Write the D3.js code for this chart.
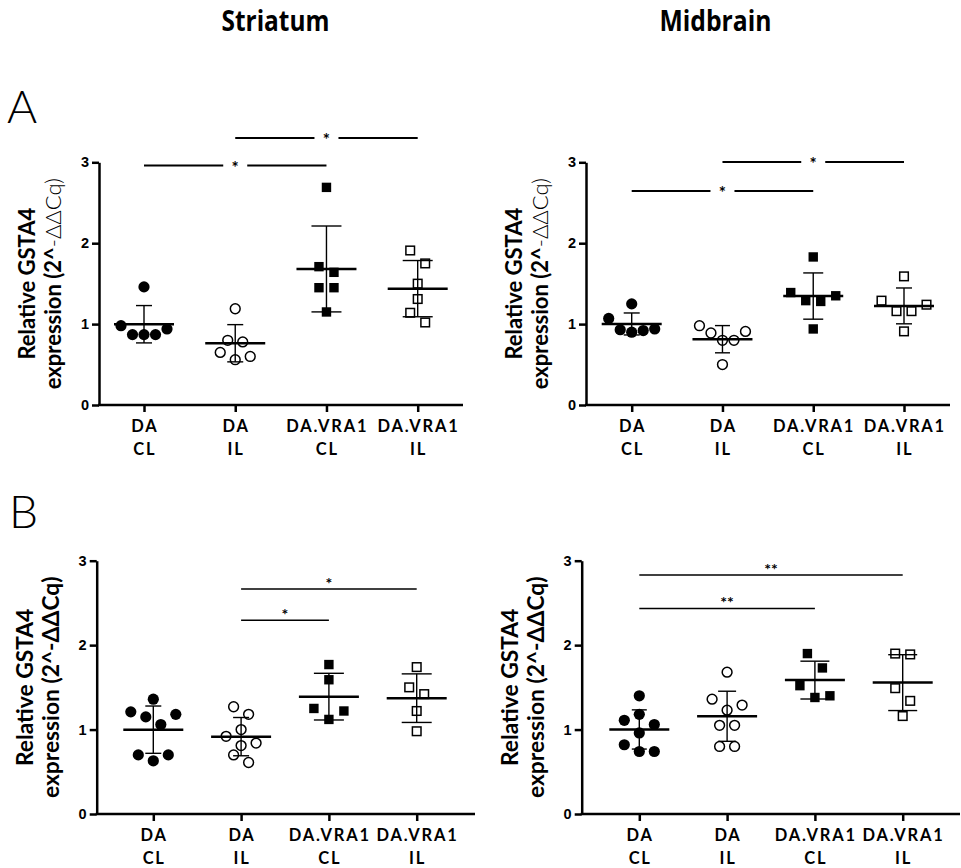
<!DOCTYPE html>
<html>
<head>
<meta charset="utf-8">
<script src="https://cdn.jsdelivr.net/npm/d3@7"></script>
<style>
  body { margin: 0; background: #fff; }
  svg { display: block; font-family: Lato, "Open Sans", sans-serif; }
</style>
</head>
<body>
<div class="chart"></div>
<script>
// x axis groups (two text lines each)
var groupTop = ["DA", "DA", "DA.VRA1", "DA.VRA1"];
var groupSub = ["CL", "IL", "CL", "IL"];
var yTicks = [0, 1, 2, 3];

// Striatum, panel A
var strA_daCL = [1.46, 0.98, 0.87, 0.87, 0.87, 0.94];
var strA_daIL = [1.19, 0.80, 0.78, 0.65, 0.56, 0.60];
var strA_vraCL = [2.69, 1.64, 1.71, 1.45, 1.45, 1.15];
var strA_vraIL = [1.91, 1.75, 1.50, 1.31, 1.14, 1.02];

// Midbrain, panel A
var midA_daCL = [1.07, 1.25, 0.93, 0.90, 0.92, 0.94];
var midA_daIL = [0.91, 0.80, 0.80, 0.89, 0.98, 0.50];
var midA_vraCL = [1.83, 1.39, 1.29, 1.28, 1.35, 0.94];
var midA_vraIL = [1.59, 1.29, 1.16, 1.16, 1.24, 0.91];

// Striatum, panel B
var strB_daCL = [1.36, 1.21, 1.15, 1.06, 1.18, 0.70, 0.63, 0.70];
var strB_daIL = [1.27, 1.18, 1.00, 0.92, 0.84, 0.81, 0.70, 0.61];
var strB_vraCL = [1.77, 1.59, 1.25, 1.22, 1.12];
var strB_vraIL = [1.74, 1.50, 1.42, 1.22, 0.98];

// Midbrain, panel B
var midB_daCL = [1.40, 1.18, 1.06, 1.11, 0.96, 0.82, 0.74, 0.74];
var midB_daIL = [1.68, 1.36, 1.29, 1.23, 1.05, 1.05, 0.80, 0.80];
var midB_vraCL = [1.90, 1.73, 1.52, 1.38, 1.40];
var midB_vraIL = [1.89, 1.90, 1.49, 1.34, 1.16];

// significance bars: from group, to group, height (y units), label
var sigStrA = [[0, 2, 2.96, "*"], [1, 3, 3.30, "*"]];
var sigMidA = [[0, 2, 2.645, "*"], [1, 3, 3.005, "*"]];
var sigStrB = [[1, 2, 2.295, "*"], [1, 3, 2.665, "*"]];
var sigMidB = [[0, 2, 2.435, "**"], [0, 3, 2.83, "**"]];

var svg = d3.select(".chart").append("svg")
  .attr("width", 961)
  .attr("height", 868);

svg.append("rect").attr("width", 961).attr("height", 868).attr("fill", "#fff");

// column titles and panel letters
svg.append("text").attr("x", 275.5).attr("y", 30.7)
  .attr("text-anchor", "middle")
  .attr("textLength", 108).attr("lengthAdjust", "spacingAndGlyphs")
  .style("font-family", "'Open Sans', sans-serif")
  .style("font-weight", 700).style("font-size", "28px")
  .text("Striatum");
svg.append("text").attr("x", 715.5).attr("y", 30.7)
  .attr("text-anchor", "middle")
  .attr("textLength", 112).attr("lengthAdjust", "spacingAndGlyphs")
  .style("font-family", "'Open Sans', sans-serif")
  .style("font-weight", 700).style("font-size", "28px")
  .text("Midbrain");
svg.append("text").attr("x", 7).attr("y", 122.7)
  .style("font-weight", 300).style("font-size", "46px").text("A");
svg.append("text").attr("x", 9).attr("y", 527.7)
  .style("font-weight", 300).style("font-size", "46px").text("B");

var panels = [
  {series: [strA_daCL, strA_daIL, strA_vraCL, strA_vraIL], sig: sigStrA,
   axisX: 99, yBot: 405, yTop: 162.3, xFirst: 144, xLast: 417.7, xEnd: 463,
   caps: [8, 8, 15, 15], inline: true, titleSize: 22},
  {series: [midA_daCL, midA_daIL, midA_vraCL, midA_vraIL], sig: sigMidA,
   axisX: 586, yBot: 405, yTop: 162.3, xFirst: 631.7, xLast: 904, xEnd: 950,
   caps: [8, 7.5, 10, 8], inline: true, titleSize: 22},
  {series: [strB_daCL, strB_daIL, strB_vraCL, strB_vraIL], sig: sigStrB,
   axisX: 96.7, yBot: 814, yTop: 560.7, xFirst: 153.3, xLast: 416.7, xEnd: 475,
   caps: [8, 8, 15, 15], inline: false, titleSize: 22.8},
  {series: [midB_daCL, midB_daIL, midB_vraCL, midB_vraIL], sig: sigMidB,
   axisX: 581.7, yBot: 814, yTop: 560.7, xFirst: 639.3, xLast: 902.7, xEnd: 960,
   caps: [7.5, 9, 14.5, 14.5], inline: false, titleSize: 22.8}
];

// GraphPad-like column scatter: points within one marker height share a row
function columnLayout(values, y) {
  var sorted = values.slice().sort(d3.ascending);
  var rows = [];
  sorted.forEach(function(v) {
    var row = rows[rows.length - 1];
    if (row && y(row[0]) - y(v) <= 15) row.push(v);
    else rows.push([v]);
  });
  var out = [];
  rows.forEach(function(row) {
    var n = row.length;
    var step = n > 1 ? Math.min(15, 46 / (n - 1)) : 0;
    row.forEach(function(v, k) {
      var slot;
      if (n % 2 === 1) slot = k === 0 ? 0 : (k % 2 === 1 ? (k + 1) / 2 : -k / 2);
      else slot = (k % 2 === 0 ? 1 : -1) * (Math.floor(k / 2) + 0.5);
      out.push({value: v, dx: slot * step});
    });
  });
  return out;
}

panels.forEach(function(p, pi) {
  var g = svg.append("g");
  var y = d3.scaleLinear().domain([0, 3]).range([p.yBot, p.yTop]);
  var x = d3.scalePoint().domain(d3.range(4)).range([p.xFirst, p.xLast]);

  // y axis
  var yAxis = g.append("g")
    .attr("transform", `translate(${p.axisX},0)`)
    .call(d3.axisLeft(y).tickValues(yTicks).tickFormat(d3.format("d")).tickSize(7).tickSizeOuter(0).tickPadding(3));
  yAxis.select(".domain").attr("stroke-width", 2.5);
  yAxis.selectAll(".tick line").attr("stroke-width", 2.5);
  yAxis.selectAll(".tick text").style("font-size", "14.5px").style("font-weight", 700).attr("fill", "#000");

  // x axis
  g.append("line")
    .attr("x1", p.axisX - 1).attr("x2", p.xEnd)
    .attr("y1", p.yBot).attr("y2", p.yBot)
    .attr("stroke", "#000").attr("stroke-width", 2.5);
  var xAxis = g.append("g")
    .attr("transform", `translate(0,${p.yBot})`)
    .call(d3.axisBottom(x).tickSize(7).tickFormat(""));
  xAxis.select(".domain").remove();
  xAxis.selectAll(".tick line").attr("stroke-width", 2.5);

  var labels = g.selectAll(".xlab").data(d3.range(4)).enter().append("text")
    .attr("class", "xlab")
    .attr("x", d => x(d))
    .attr("text-anchor", "middle")
    .style("font-size", "16.5px").style("font-weight", 700)
    .style("letter-spacing", "1.8px");
  labels.append("tspan").attr("x", d => x(d) + 0.9).attr("y", p.yBot + 27).text(d => groupTop[d]);
  labels.append("tspan").attr("x", d => x(d) + 0.9).attr("y", p.yBot + 50).text(d => groupSub[d]);

  // y title
  var yMid = (p.yBot + p.yTop) / 2;
  g.append("text")
    .attr("transform", `translate(${p.axisX - 64},${yMid}) rotate(-90)`)
    .attr("text-anchor", "middle")
    .style("font-size", p.titleSize + "px").style("font-weight", 700)
    .text("Relative GSTA4");
  var t2 = g.append("text")
    .attr("transform", `translate(${p.axisX - 38},${yMid}) rotate(-90)`)
    .attr("text-anchor", "middle")
    .style("font-size", p.titleSize + "px").style("font-weight", 700);
  if (p.inline) {
    t2.append("tspan").text("expression (2^");
    t2.append("tspan").style("font-weight", 300).text("-ΔΔCq)");
  } else {
    t2.text("expression (2^-ΔΔCq)");
  }

  // points
  p.series.forEach(function(vals, gi) {
    var pts = columnLayout(vals, y);
    var cx = x(gi);
    var filled = gi % 2 === 0;
    var square = gi >= 2;
    var sel = g.selectAll(null).data(pts).enter();
    if (square) {
      var side = filled ? 9.4 : 8.6;
      sel.append("rect")
        .attr("x", d => cx + d.dx - side / 2)
        .attr("y", d => y(d.value) - side / 2)
        .attr("width", side).attr("height", side)
        .attr("fill", filled ? "#000" : "#fff")
        .attr("stroke", "#000").attr("stroke-width", filled ? 0 : 1.5);
    } else {
      sel.append("circle")
        .attr("cx", d => cx + d.dx)
        .attr("cy", d => y(d.value))
        .attr("r", filled ? 5.6 : 4.9)
        .attr("fill", filled ? "#000" : "#fff")
        .attr("stroke", "#000").attr("stroke-width", filled ? 0 : 1.5);
    }
  });

  // mean and SD
  p.series.forEach(function(vals, gi) {
    var m = d3.mean(vals), sd = d3.deviation(vals);
    var cx = x(gi), cw = p.caps[gi];
    g.append("line").attr("x1", cx).attr("x2", cx)
      .attr("y1", y(m - sd)).attr("y2", y(m + sd))
      .attr("stroke", "#000").attr("stroke-width", 1.4);
    [m - sd, m + sd].forEach(function(v) {
      g.append("line").attr("x1", cx - cw).attr("x2", cx + cw)
        .attr("y1", y(v)).attr("y2", y(v))
        .attr("stroke", "#000").attr("stroke-width", 1.4);
    });
    g.append("line").attr("x1", cx - 30).attr("x2", cx + 30)
      .attr("y1", y(m)).attr("y2", y(m))
      .attr("stroke", "#000").attr("stroke-width", 2.5);
  });

  // significance bars
  p.sig.forEach(function(s) {
    var x1 = x(s[0]), x2 = x(s[1]), yy = y(s[2]), xm = (x1 + x2) / 2;
    if (p.inline) {
      g.append("line").attr("x1", x1).attr("x2", xm - 12).attr("y1", yy).attr("y2", yy)
        .attr("stroke", "#000").attr("stroke-width", 2);
      g.append("line").attr("x1", xm + 12).attr("x2", x2).attr("y1", yy).attr("y2", yy)
        .attr("stroke", "#000").attr("stroke-width", 2);
      g.append("text").attr("x", xm).attr("y", yy + 8)
        .attr("text-anchor", "middle").style("font-size", "17px").style("font-weight", 700).text(s[3]);
    } else {
      g.append("line").attr("x1", x1).attr("x2", x2).attr("y1", yy).attr("y2", yy)
        .attr("stroke", "#000").attr("stroke-width", 1.5);
      g.append("text").attr("x", xm).attr("y", yy)
        .attr("text-anchor", "middle").style("font-size", "16px").style("font-weight", 700).text(s[3]);
    }
  });
});
</script>
</body>
</html>
